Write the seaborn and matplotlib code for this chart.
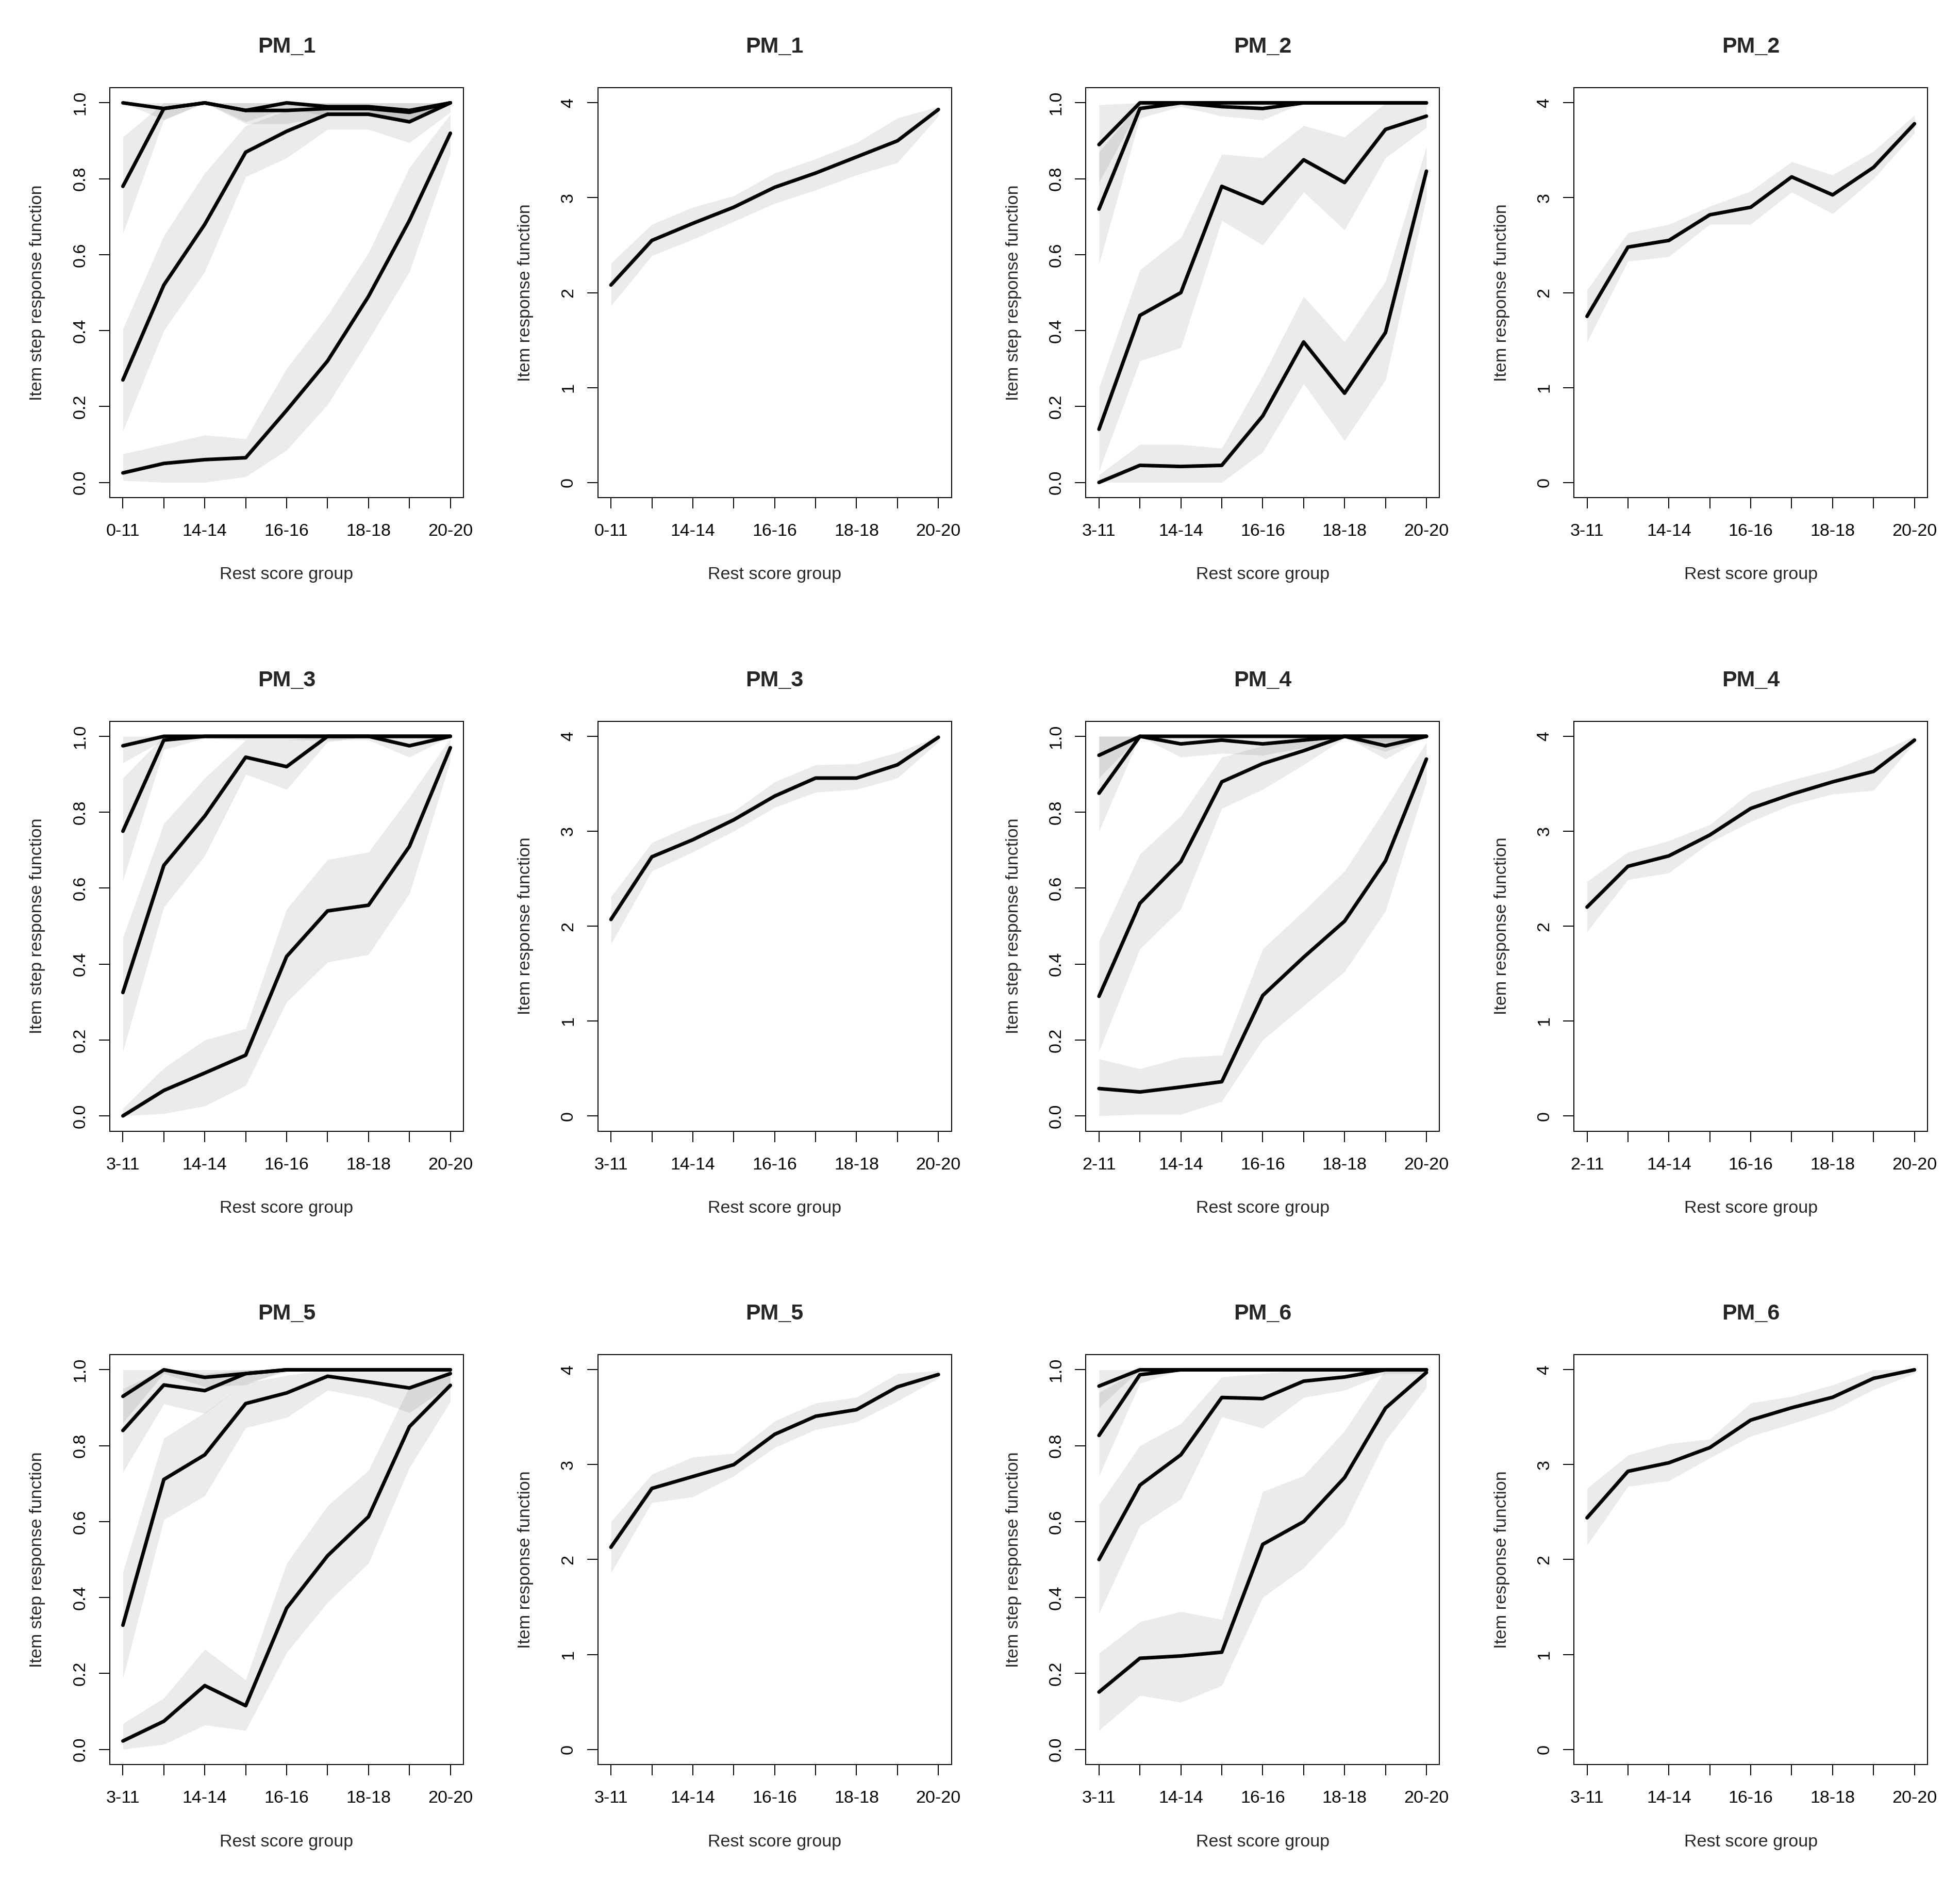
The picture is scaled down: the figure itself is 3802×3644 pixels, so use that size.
import numpy as np
import pandas as pd
import seaborn as sns
import matplotlib.pyplot as plt

# Rest score groups (only every other label fits on the axis)
groups_pm1 = ["0-11", "12-13", "14-14", "15-15", "16-16", "17-17", "18-18", "19-19", "20-20"]
groups_pm2 = ["3-11", "12-13", "14-14", "15-15", "16-16", "17-17", "18-18", "19-19", "20-20"]
groups_pm3 = ["3-11", "12-13", "14-14", "15-15", "16-16", "17-17", "18-18", "19-19", "20-20"]
groups_pm4 = ["2-11", "12-13", "14-14", "15-15", "16-16", "17-17", "18-18", "19-19", "20-20"]
groups_pm5 = ["3-11", "12-13", "14-14", "15-15", "16-16", "17-17", "18-18", "19-19", "20-20"]
groups_pm6 = ["3-11", "12-13", "14-14", "15-15", "16-16", "17-17", "18-18", "19-19", "20-20"]

# Item step response functions: estimate, lower and upper band, one row per step
pm1_step = [[1.00, 0.985, 1.00, 0.98, 1.00, 0.99, 0.99, 0.98, 1.00],
            [0.78, 0.985, 1.00, 0.98, 0.98, 0.985, 0.985, 0.975, 1.00],
            [0.27, 0.52, 0.68, 0.87, 0.925, 0.97, 0.97, 0.95, 1.00],
            [0.025, 0.05, 0.06, 0.065, 0.19, 0.32, 0.49, 0.69, 0.92]]
pm1_step_lo = [[1.00, 0.955, 1.00, 0.95, 0.985, 0.965, 0.965, 0.955, 1.00],
               [0.655, 0.955, 1.00, 0.945, 0.945, 0.965, 0.965, 0.945, 1.00],
               [0.135, 0.40, 0.555, 0.805, 0.855, 0.93, 0.93, 0.895, 0.975],
               [0.005, 0.0, 0.0, 0.015, 0.085, 0.205, 0.375, 0.555, 0.865]]
pm1_step_hi = [[1.00, 1.00, 1.00, 1.00, 1.00, 1.00, 1.00, 1.00, 1.00],
               [0.91, 1.00, 1.00, 1.00, 1.00, 1.00, 1.00, 1.00, 1.00],
               [0.405, 0.65, 0.815, 0.94, 0.98, 0.99, 0.99, 0.975, 1.00],
               [0.075, 0.10, 0.125, 0.115, 0.30, 0.44, 0.605, 0.83, 0.97]]

pm2_step = [[0.89, 1.00, 1.00, 1.00, 1.00, 1.00, 1.00, 1.00, 1.00],
            [0.72, 0.985, 1.00, 0.99, 0.985, 1.00, 1.00, 1.00, 1.00],
            [0.14, 0.44, 0.50, 0.78, 0.735, 0.85, 0.79, 0.93, 0.965],
            [0.0, 0.045, 0.042, 0.045, 0.175, 0.37, 0.235, 0.395, 0.82]]
pm2_step_lo = [[0.79, 0.99, 1.00, 0.995, 0.995, 1.00, 1.00, 1.00, 1.00],
               [0.575, 0.96, 0.99, 0.965, 0.955, 1.00, 1.00, 1.00, 1.00],
               [0.03, 0.32, 0.355, 0.69, 0.625, 0.765, 0.665, 0.855, 0.935],
               [0.0, 0.0, 0.0, 0.0, 0.08, 0.26, 0.11, 0.27, 0.75]]
pm2_step_hi = [[0.995, 1.00, 1.00, 1.00, 1.00, 1.00, 1.00, 1.00, 1.00],
               [0.87, 1.00, 1.00, 1.00, 1.00, 1.00, 1.00, 1.00, 1.00],
               [0.25, 0.56, 0.645, 0.865, 0.855, 0.94, 0.91, 1.00, 1.00],
               [0.02, 0.10, 0.10, 0.09, 0.28, 0.49, 0.37, 0.53, 0.885]]

pm3_step = [[0.975, 1.00, 1.00, 1.00, 1.00, 1.00, 1.00, 1.00, 1.00],
            [0.75, 0.99, 1.00, 1.00, 1.00, 1.00, 1.00, 0.975, 1.00],
            [0.325, 0.66, 0.79, 0.945, 0.92, 1.00, 1.00, 1.00, 1.00],
            [0.0, 0.067, 0.113, 0.16, 0.42, 0.54, 0.555, 0.71, 0.97]]
pm3_step_lo = [[0.93, 0.99, 1.00, 1.00, 1.00, 1.00, 1.00, 1.00, 1.00],
               [0.62, 0.965, 0.995, 0.99, 0.99, 0.99, 0.99, 0.945, 1.00],
               [0.17, 0.55, 0.685, 0.90, 0.86, 0.985, 1.00, 1.00, 1.00],
               [0.0, 0.006, 0.026, 0.08, 0.30, 0.405, 0.425, 0.585, 0.935]]
pm3_step_hi = [[1.00, 1.00, 1.00, 1.00, 1.00, 1.00, 1.00, 1.00, 1.00],
               [0.89, 1.00, 1.00, 1.00, 1.00, 1.00, 1.00, 1.00, 1.00],
               [0.47, 0.77, 0.89, 0.99, 0.99, 1.00, 1.00, 1.00, 1.00],
               [0.02, 0.126, 0.20, 0.23, 0.545, 0.675, 0.695, 0.84, 0.995]]

pm4_step = [[0.95, 1.00, 1.00, 1.00, 1.00, 1.00, 1.00, 0.975, 1.00],
            [0.85, 1.00, 0.98, 0.99, 0.98, 0.99, 1.00, 1.00, 1.00],
            [0.315, 0.56, 0.67, 0.88, 0.928, 0.962, 1.00, 1.00, 1.00],
            [0.072, 0.063, 0.076, 0.09, 0.317, 0.418, 0.513, 0.672, 0.94]]
pm4_step_lo = [[0.89, 1.00, 1.00, 1.00, 1.00, 1.00, 1.00, 0.94, 1.00],
               [0.75, 1.00, 0.945, 0.955, 0.95, 0.97, 1.00, 0.985, 1.00],
               [0.17, 0.44, 0.545, 0.81, 0.86, 0.925, 0.995, 0.96, 1.00],
               [0.0, 0.004, 0.004, 0.038, 0.20, 0.29, 0.38, 0.54, 0.88]]
pm4_step_hi = [[1.00, 1.00, 1.00, 1.00, 1.00, 1.00, 1.00, 1.00, 1.00],
               [1.00, 1.00, 1.00, 1.00, 1.00, 1.00, 1.00, 1.00, 1.00],
               [0.46, 0.69, 0.79, 0.945, 0.975, 1.00, 1.00, 1.00, 1.00],
               [0.15, 0.124, 0.154, 0.16, 0.44, 0.54, 0.645, 0.81, 0.985]]

pm5_step = [[0.93, 1.00, 0.98, 0.99, 1.00, 1.00, 1.00, 1.00, 1.00],
            [0.84, 0.96, 0.945, 0.99, 1.00, 1.00, 1.00, 1.00, 1.00],
            [0.327, 0.711, 0.776, 0.911, 0.939, 0.983, 0.968, 0.952, 0.99],
            [0.022, 0.074, 0.168, 0.115, 0.372, 0.51, 0.613, 0.85, 0.959]]
pm5_step_lo = [[0.86, 0.99, 0.955, 0.96, 1.00, 1.00, 1.00, 1.00, 1.00],
               [0.73, 0.91, 0.885, 0.965, 0.995, 1.00, 1.00, 1.00, 1.00],
               [0.187, 0.605, 0.668, 0.847, 0.874, 0.946, 0.926, 0.887, 0.96],
               [0.0, 0.013, 0.064, 0.05, 0.255, 0.387, 0.49, 0.742, 0.916]]
pm5_step_hi = [[1.00, 1.00, 1.00, 1.00, 1.00, 1.00, 1.00, 1.00, 1.00],
               [0.95, 1.00, 0.99, 1.00, 1.00, 1.00, 1.00, 1.00, 1.00],
               [0.468, 0.82, 0.887, 0.965, 0.985, 1.00, 1.00, 0.995, 1.00],
               [0.068, 0.135, 0.264, 0.183, 0.49, 0.642, 0.735, 0.955, 0.995]]

pm6_step = [[0.957, 1.00, 1.00, 1.00, 1.00, 1.00, 1.00, 1.00, 1.00],
            [0.827, 0.987, 1.00, 1.00, 1.00, 1.00, 1.00, 1.00, 1.00],
            [0.50, 0.696, 0.776, 0.927, 0.924, 0.97, 0.981, 1.00, 1.00],
            [0.151, 0.24, 0.246, 0.256, 0.54, 0.60, 0.716, 0.899, 0.993]]
pm6_step_lo = [[0.90, 1.00, 1.00, 1.00, 1.00, 1.00, 1.00, 1.00, 1.00],
               [0.72, 0.964, 1.00, 1.00, 1.00, 1.00, 1.00, 1.00, 1.00],
               [0.358, 0.589, 0.659, 0.876, 0.846, 0.927, 0.946, 0.99, 0.99],
               [0.05, 0.142, 0.124, 0.168, 0.40, 0.478, 0.594, 0.813, 0.953]]
pm6_step_hi = [[1.00, 1.00, 1.00, 1.00, 1.00, 1.00, 1.00, 1.00, 1.00],
               [0.94, 1.00, 1.00, 1.00, 1.00, 1.00, 1.00, 1.00, 1.00],
               [0.644, 0.80, 0.858, 0.981, 0.99, 1.00, 1.00, 1.00, 1.00],
               [0.253, 0.336, 0.363, 0.342, 0.679, 0.721, 0.839, 1.00, 1.00]]

# Item response functions (0-4 scale)
pm1_irf = [2.08, 2.55, 2.73, 2.90, 3.11, 3.26, 3.43, 3.60, 3.93]
pm1_irf_lo = [1.86, 2.39, 2.56, 2.75, 2.94, 3.08, 3.24, 3.37, 3.86]
pm1_irf_hi = [2.31, 2.72, 2.90, 3.02, 3.26, 3.41, 3.58, 3.84, 3.96]

pm2_irf = [1.75, 2.48, 2.55, 2.82, 2.90, 3.22, 3.03, 3.32, 3.78]
pm2_irf_lo = [1.48, 2.33, 2.38, 2.72, 2.72, 3.06, 2.83, 3.20, 3.68]
pm2_irf_hi = [2.03, 2.63, 2.72, 2.91, 3.07, 3.38, 3.24, 3.49, 3.87]

pm3_irf = [2.07, 2.73, 2.91, 3.12, 3.37, 3.56, 3.56, 3.70, 3.99]
pm3_irf_lo = [1.81, 2.58, 2.78, 3.00, 3.25, 3.41, 3.44, 3.56, 3.94]
pm3_irf_hi = [2.31, 2.88, 3.07, 3.21, 3.52, 3.70, 3.71, 3.83, 4.00]

pm4_irf = [2.20, 2.63, 2.74, 2.96, 3.24, 3.39, 3.52, 3.63, 3.96]
pm4_irf_lo = [1.94, 2.49, 2.56, 2.88, 3.10, 3.28, 3.39, 3.43, 3.93]
pm4_irf_hi = [2.47, 2.78, 2.90, 3.07, 3.41, 3.54, 3.65, 3.81, 4.00]

pm5_irf = [2.13, 2.75, 2.875, 3.00, 3.32, 3.51, 3.58, 3.82, 3.95]
pm5_irf_lo = [1.86, 2.60, 2.66, 2.88, 3.18, 3.37, 3.45, 3.67, 3.91]
pm5_irf_hi = [2.40, 2.90, 3.08, 3.12, 3.46, 3.65, 3.71, 3.96, 3.99]

pm6_irf = [2.44, 2.93, 3.02, 3.18, 3.47, 3.60, 3.71, 3.91, 4.00]
pm6_irf_lo = [2.15, 2.77, 2.83, 3.07, 3.30, 3.43, 3.57, 3.79, 3.96]
pm6_irf_hi = [2.75, 3.10, 3.22, 3.27, 3.65, 3.72, 3.84, 4.00, 4.00]

items = [
    ("PM_1", groups_pm1, pm1_step, pm1_step_lo, pm1_step_hi, pm1_irf, pm1_irf_lo, pm1_irf_hi),
    ("PM_2", groups_pm2, pm2_step, pm2_step_lo, pm2_step_hi, pm2_irf, pm2_irf_lo, pm2_irf_hi),
    ("PM_3", groups_pm3, pm3_step, pm3_step_lo, pm3_step_hi, pm3_irf, pm3_irf_lo, pm3_irf_hi),
    ("PM_4", groups_pm4, pm4_step, pm4_step_lo, pm4_step_hi, pm4_irf, pm4_irf_lo, pm4_irf_hi),
    ("PM_5", groups_pm5, pm5_step, pm5_step_lo, pm5_step_hi, pm5_irf, pm5_irf_lo, pm5_irf_hi),
    ("PM_6", groups_pm6, pm6_step, pm6_step_lo, pm6_step_hi, pm6_irf, pm6_irf_lo, pm6_irf_hi),
]

sns.set_theme(style="ticks")
plt.rcParams['font.family'] = ['Liberation Sans', 'DejaVu Sans']

W, H = 3802, 3644
fig = plt.figure(figsize=(W / 100, H / 100), dpi=100)
fig.patch.set_facecolor("white")

# panel geometry in pixels
col_step, row_step = 946.7, 1228.5
box_l, box_w, box_t, box_h = 213, 686, 170, 795
fs = 24.5
band_kw = dict(color="black", alpha=0.08, linewidth=0)


def make_axes(col, row):
    left = (col * col_step + box_l) / W
    bottom = 1 - (row * row_step + box_t + box_h) / H
    return fig.add_axes([left, bottom, box_w / W, box_h / H])


def finish(ax, title, groups, ylabel, yticks, ylabels, ylim):
    pos = np.arange(len(groups))
    ax.set_xlim(-0.32, len(groups) - 1 + 0.32)
    ax.set_ylim(*ylim)
    ax.set_xticks(pos)
    ax.set_xticklabels([g if i % 2 == 0 else "" for i, g in enumerate(groups)])
    ax.set_yticks(yticks)
    ax.set_yticklabels(ylabels)
    ax.tick_params(axis="both", direction="out", length=15, width=1.4,
                   color="black", labelsize=fs, labelcolor="black")
    ax.tick_params(axis="x", pad=21)
    ax.tick_params(axis="y", pad=15, labelrotation=90)
    for lab in ax.get_yticklabels():
        lab.set_va("center")
    for sp in ax.spines.values():
        sp.set_visible(True)
        sp.set_color("black")
        sp.set_linewidth(1.4)
    ax.set_facecolor("white")
    ax.set_title(title, fontsize=31, fontweight="bold", y=1 + 79 / box_h, va="center", pad=0)
    ax.set_xlabel("Rest score group", fontsize=fs, va="center")
    ax.xaxis.set_label_coords(0.5, -150 / box_h)
    ax.set_ylabel(ylabel, fontsize=fs, va="center")
    ax.yaxis.set_label_coords(-140 / box_w, 0.5)


for k, (name, groups, step, step_lo, step_hi, irf, irf_lo, irf_hi) in enumerate(items):
    row, col = k // 2, (k % 2) * 2
    pos = np.arange(len(groups))

    # step response panel
    ax = make_axes(col, row)
    for lo, hi in zip(step_lo, step_hi):
        ax.fill_between(pos, lo, hi, **band_kw)
    df = pd.DataFrame({
        "pos": np.tile(pos, len(step)),
        "value": np.concatenate(step),
        "step": np.repeat(np.arange(len(step)), len(pos)),
    })
    sns.lineplot(data=df, x="pos", y="value", units="step", estimator=None,
                 color="black", linewidth=5, ax=ax, zorder=3)
    finish(ax, name, groups, "Item step response function",
           [0, 0.2, 0.4, 0.6, 0.8, 1.0], ["0.0", "0.2", "0.4", "0.6", "0.8", "1.0"],
           (-0.04, 1.04))

    # item response panel
    ax = make_axes(col + 1, row)
    ax.fill_between(pos, irf_lo, irf_hi, **band_kw)
    sns.lineplot(x=pos, y=irf, color="black", linewidth=5, ax=ax, zorder=3)
    finish(ax, name, groups, "Item response function",
           [0, 1, 2, 3, 4], ["0", "1", "2", "3", "4"], (-0.16, 4.16))

fig.savefig("out.png", dpi=100, facecolor="white")
